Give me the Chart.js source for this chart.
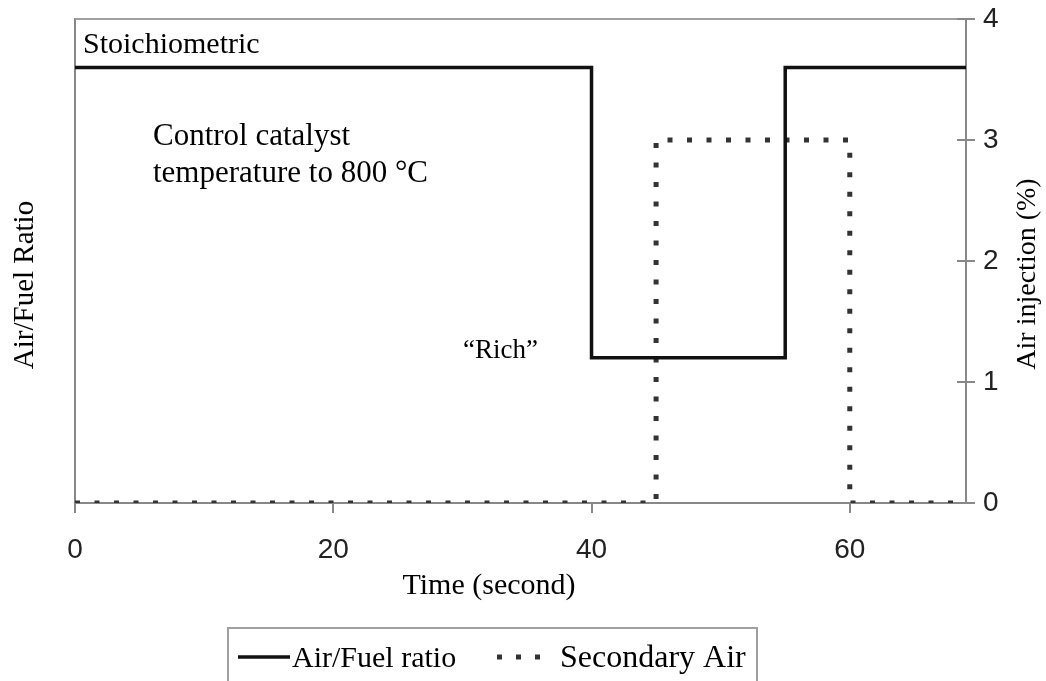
<!DOCTYPE html>
<html>
<head>
  <meta charset="UTF-8">
  <title>Air/Fuel Ratio</title>
  <script src="https://cdn.jsdelivr.net/npm/chart.js@4/dist/chart.umd.min.js"></script>
  <style>
    html, body { margin: 0; padding: 0; background: #fff; }
    #wrap { width: 1046px; height: 681px; }
  </style>
</head>
<body>
<div id="wrap"><canvas id="myChart" width="1046" height="681"></canvas></div>
<script>
  // time (s) and air/fuel ratio (drawn on the 0-4 scale)
  var afTime  = [0, 40, 40, 55, 55, 69];
  var afValue = [3.6, 3.6, 1.2, 1.2, 3.6, 3.6];
  // secondary air injection (%)
  var airTime  = [0, 45, 45, 60, 60, 69];
  var airValue = [0, 0, 3, 3, 0, 0];
  var xTicks = [0, 20, 40, 60];
  var yTicks = [0, 1, 2, 3, 4];

  var serif = "'Liberation Serif', 'Times New Roman', serif";
  var sans = "'Liberation Sans', Arial, sans-serif";

  function toPoints(xs, ys) {
    var pts = [];
    for (var i = 0; i < xs.length; i++) pts.push({ x: xs[i], y: ys[i] });
    return pts;
  }

  // texts, titles, right-axis inner ticks and the boxed legend
  var extras = {
    id: "extras",
    afterDraw: function(chart) {
      var ctx = chart.ctx, a = chart.chartArea;
      var y1 = chart.scales.y1;
      ctx.save();
      // top frame line
      ctx.strokeStyle = "#a0a0a0";
      ctx.lineWidth = 2;
      ctx.beginPath();
      ctx.moveTo(a.left, a.top); ctx.lineTo(a.right, a.top);
      ctx.stroke();
      // inner half of the right axis ticks
      ctx.strokeStyle = "#888";
      ctx.beginPath();
      yTicks.forEach(function(v) {
        var py = Math.round(y1.getPixelForValue(v));
        ctx.moveTo(a.right - 9, py); ctx.lineTo(a.right, py);
      });
      ctx.stroke();

      ctx.fillStyle = "#000";
      ctx.textBaseline = "alphabetic";
      ctx.textAlign = "left";
      ctx.font = "30px " + serif;
      ctx.fillText("Stoichiometric", 83, 53);
      ctx.font = "31px " + serif;
      ctx.fillText("Control catalyst", 153, 145);
      ctx.fillText("temperature to 800 °C", 153, 182);
      ctx.font = "27px " + serif;
      ctx.fillText("\u201CRich\u201D", 463, 358);

      // axis titles
      ctx.textAlign = "center";
      ctx.font = "30px " + serif;
      ctx.fillText("Time (second)", 489, 594);
      ctx.save();
      ctx.translate(33, 285);
      ctx.rotate(-Math.PI / 2);
      ctx.font = "29px " + serif;
      ctx.fillText("Air/Fuel Ratio", 0, 0);
      ctx.restore();
      ctx.save();
      ctx.translate(1035, 274);
      ctx.rotate(-Math.PI / 2);
      ctx.font = "28px " + serif;
      ctx.fillText("Air injection (%)", 0, 0);
      ctx.restore();

      // legend box
      var ds = chart.data.datasets;
      ctx.strokeStyle = "#a0a0a0";
      ctx.lineWidth = 2;
      ctx.strokeRect(228, 628, 529, 70);
      ctx.strokeStyle = ds[0].borderColor;
      ctx.lineWidth = ds[0].borderWidth;
      ctx.beginPath();
      ctx.moveTo(238, 657); ctx.lineTo(290, 657);
      ctx.stroke();
      ctx.strokeStyle = ds[1].borderColor;
      ctx.lineWidth = ds[1].borderWidth;
      ctx.setLineDash([5, 14]);
      ctx.beginPath();
      ctx.moveTo(497, 657); ctx.lineTo(545, 657);
      ctx.stroke();
      ctx.setLineDash([]);
      ctx.textAlign = "left";
      ctx.font = "30px " + serif;
      ctx.fillText(ds[0].label, 292, 667);
      ctx.font = "32px " + serif;
      ctx.fillText(ds[1].label, 560, 667);
      ctx.restore();
    }
  };

  new Chart(document.getElementById("myChart"), {
    type: "line",
    data: {
      datasets: [{
        label: "Air/Fuel ratio",
        data: toPoints(afTime, afValue),
        yAxisID: "y",
        borderColor: "#111",
        borderWidth: 3.5,
        borderJoinStyle: "miter",
        pointRadius: 0,
        tension: 0
      }, {
        label: "Secondary Air",
        data: toPoints(airTime, airValue),
        yAxisID: "y1",
        borderColor: "#333",
        borderWidth: 5,
        borderDash: [5, 14.5],
        pointRadius: 0,
        tension: 0
      }]
    },
    options: {
      responsive: false,
      animation: false,
      layout: { padding: { top: 19, left: 0, right: 0, bottom: 0 } },
      plugins: { legend: { display: false }, tooltip: { enabled: false } },
      scales: {
        x: {
          type: "linear",
          min: 0, max: 69,
          afterFit: function(s) { s.height = 178; s.paddingLeft = 0; s.paddingRight = 0; },
          afterBuildTicks: function(s) { s.ticks = xTicks.map(function(v) { return { value: v }; }); },
          ticks: { font: { family: sans, size: 28 }, color: "#222", padding: 20 },
          grid: { drawOnChartArea: false, tickLength: 10, color: "#888", lineWidth: 2 },
          border: { color: "#888", width: 2 }
        },
        y: {
          position: "left",
          min: 0, max: 4,
          afterFit: function(s) { s.width = 75; s.paddingTop = 0; s.paddingBottom = 0; },
          ticks: { display: false },
          grid: { display: false },
          border: { color: "#888", width: 2 }
        },
        y1: {
          position: "right",
          min: 0, max: 4,
          afterFit: function(s) { s.width = 80; s.paddingTop = 0; s.paddingBottom = 0; },
          afterBuildTicks: function(s) { s.ticks = yTicks.map(function(v) { return { value: v }; }); },
          ticks: { font: { family: sans, size: 28 }, color: "#222", padding: 8 },
          grid: { drawOnChartArea: false, tickLength: 9, color: "#888", lineWidth: 2 },
          border: { color: "#888", width: 2 }
        }
      }
    },
    plugins: [extras]
  });
</script>
</body>
</html>
